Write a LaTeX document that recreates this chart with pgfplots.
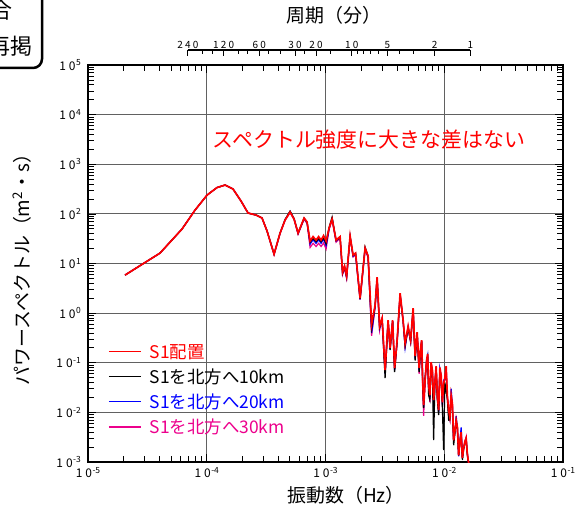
\documentclass[border=0pt]{standalone}
\usepackage{fontspec}
\setmainfont{Noto Sans CJK JP}
\usepackage{pgfplots}
\pgfplotsset{compat=1.18}
\usepackage{pgfplotstable}

\pgfplotstableread{
f P
2.05e-5 5.84
4.04e-5 16.2
6.19e-5 49.4
7.97e-5 119
1.006e-4 239
1.221e-4 339
1.427e-4 381
1.666e-4 316
1.945e-4 181
2.228e-4 104
2.602e-4 94.6
2.923e-4 82.3
3.221e-4 45.0
3.690e-4 15.5
4.145e-4 41.0
4.567e-4 75.0
5.033e-4 109
5.439e-4 78.5
5.878e-4 41.0
6.602e-4 82.3
6.998e-4 68.4
7.418e-4 28.3
7.863e-4 34.8
8.333e-4 29.6
8.750e-4 34.8
9.183e-4 29.6
9.638e-4 36.5
1.0118e-3 28.3
1.072e-3 51.8
1.137e-3 78.5
1.228e-3 29.6
1.327e-3 34.8
1.393e-3 6.71
1.448e-3 8.87
1.506e-3 5.57
1.612e-3 35.6
1.708e-3 14.8
1.793e-3 16.2
1.956e-3 2.00
2.156e-3 20.4
2.285e-3 14.1
2.446e-3 0.60
2.617e-3 1.45
2.721e-3 5.32
2.856e-3 0.547
2.998e-3 0.793
3.177e-3 0.0710
3.368e-3 0.722
3.501e-3 0.197
3.675e-3 0.722
3.820e-3 0.0778
4.011e-3 0.286
4.251e-3 2.53
4.505e-3 0.722
4.684e-3 0.248
4.965e-3 0.547
5.211e-3 0.286
5.470e-3 1.26
5.687e-3 0.136
5.912e-3 0.414
6.146e-3 0.0778
6.300e-3 0.18
6.452e-3 0.286
6.580e-3 0.05
6.707e-3 0.0140
6.900e-3 0.045
7.107e-3 0.113
7.250e-3 0.15
7.389e-3 0.0353
7.570e-3 0.022
7.755e-3 0.103
7.950e-3 0.07
8.141e-3 0.0176
8.340e-3 0.04
8.545e-3 0.0853
8.750e-3 0.022
8.971e-3 0.0111
9.190e-3 0.08
9.417e-3 0.0562
9.650e-3 0.016
9.883e-3 0.0371
1.012e-2 0.05
1.0375e-2 0.0853
1.063e-2 0.021
1.089e-2 0.0111
1.115e-2 0.008
1.143e-2 0.0222
1.171e-2 0.015
1.200e-2 0.00275
1.230e-2 0.0042
1.260e-2 0.00697
1.291e-2 0.005
1.322e-2 0.00137
1.355e-2 0.0026
1.388e-2 0.00399
1.422e-2 0.0012
1.457e-2 0.00190
1.493e-2 0.0026
1.529e-2 0.00302
1.560e-2 0.0016
1.590e-2 0.00109
1.653e-2 0.000684
}\redtab

\pgfplotstableread{
f P
2.05e-5 5.84
4.04e-5 16.2
6.19e-5 49.4
7.97e-5 119
1.006e-4 239
1.221e-4 339
1.427e-4 381
1.666e-4 316
1.945e-4 181
2.228e-4 104
2.602e-4 94.6
2.923e-4 82.3
3.221e-4 45.0
3.690e-4 15.5
4.145e-4 41.0
4.567e-4 77.0
5.033e-4 114
5.439e-4 80.0
5.878e-4 41.0
6.602e-4 82.3
6.998e-4 68.4
7.418e-4 27.0
7.863e-4 32.0
8.333e-4 27.5
8.750e-4 32.0
9.183e-4 27.5
9.638e-4 33.0
1.0118e-3 25.0
1.072e-3 53.0
1.137e-3 86.0
1.228e-3 29.0
1.327e-3 34.0
1.393e-3 6.4
1.448e-3 8.6
1.506e-3 5.4
1.612e-3 35.0
1.708e-3 14.5
1.793e-3 16.0
1.956e-3 1.95
2.156e-3 21.5
2.285e-3 14.0
2.446e-3 0.50
2.617e-3 1.40
2.721e-3 5.10
2.856e-3 0.52
2.998e-3 0.75
3.177e-3 0.049
3.368e-3 0.70
3.501e-3 0.18
3.675e-3 0.70
3.820e-3 0.0646
4.011e-3 0.27
4.251e-3 2.30
4.505e-3 0.70
4.684e-3 0.22
4.965e-3 0.50
5.211e-3 0.27
5.470e-3 1.15
5.687e-3 0.110
5.912e-3 0.40
6.146e-3 0.0646
6.300e-3 0.16
6.452e-3 0.27
6.580e-3 0.04
6.707e-3 0.0122
6.900e-3 0.05
7.107e-3 0.105
7.250e-3 0.13
7.389e-3 0.0222
7.570e-3 0.018
7.755e-3 0.095
7.950e-3 0.06
8.141e-3 0.00275
8.340e-3 0.035
8.545e-3 0.080
8.750e-3 0.018
8.971e-3 0.0088
9.190e-3 0.07
9.417e-3 0.050
9.650e-3 0.012
9.883e-3 0.00173
1.012e-2 0.04
1.0375e-2 0.0273
1.063e-2 0.018
1.089e-2 0.00697
1.115e-2 0.007
1.143e-2 0.020
1.171e-2 0.013
1.200e-2 0.00218
1.230e-2 0.0038
1.260e-2 0.0065
1.291e-2 0.0045
1.322e-2 0.00137
1.355e-2 0.0024
1.388e-2 0.0038
1.422e-2 0.0011
1.457e-2 0.00180
1.493e-2 0.0024
1.529e-2 0.0028
1.560e-2 0.0015
1.590e-2 0.00100
1.653e-2 0.00065
}\blacktab

\pgfplotstableread{
f P
2.05e-5 5.84
4.04e-5 16.2
6.19e-5 49.4
7.97e-5 119
1.006e-4 239
1.221e-4 339
1.427e-4 381
1.666e-4 316
1.945e-4 181
2.228e-4 104
2.602e-4 94.6
2.923e-4 82.3
3.221e-4 45.0
3.690e-4 15.5
4.145e-4 41.0
4.567e-4 76.0
5.033e-4 112
5.439e-4 79.0
5.878e-4 40.0
6.602e-4 80.0
6.998e-4 66.0
7.418e-4 24.5
7.863e-4 30.0
8.333e-4 25.5
8.750e-4 30.0
9.183e-4 25.5
9.638e-4 31.0
1.0118e-3 23.0
1.072e-3 50.0
1.137e-3 80.0
1.228e-3 28.5
1.327e-3 33.5
1.393e-3 6.3
1.448e-3 8.4
1.506e-3 5.2
1.612e-3 34.5
1.708e-3 14.0
1.793e-3 15.5
1.956e-3 1.90
2.156e-3 20.0
2.285e-3 13.5
2.446e-3 0.40
2.617e-3 1.35
2.721e-3 5.00
2.856e-3 0.50
2.998e-3 0.78
3.177e-3 0.060
3.368e-3 0.70
3.501e-3 0.19
3.675e-3 0.70
3.820e-3 0.070
4.011e-3 0.27
4.251e-3 2.40
4.505e-3 0.70
4.684e-3 0.20
4.965e-3 0.52
5.211e-3 0.27
5.470e-3 1.20
5.687e-3 0.12
5.912e-3 0.40
6.146e-3 0.070
6.300e-3 0.17
6.452e-3 0.28
6.580e-3 0.045
6.707e-3 0.013
6.900e-3 0.05
7.107e-3 0.110
7.250e-3 0.14
7.389e-3 0.030
7.570e-3 0.020
7.755e-3 0.100
7.950e-3 0.065
8.141e-3 0.012
8.340e-3 0.038
8.545e-3 0.082
8.750e-3 0.020
8.971e-3 0.0100
9.190e-3 0.075
9.417e-3 0.054
9.650e-3 0.014
9.883e-3 0.045
1.012e-2 0.045
1.0375e-2 0.070
1.063e-2 0.020
1.089e-2 0.0105
1.115e-2 0.0075
1.143e-2 0.030
1.171e-2 0.014
1.200e-2 0.0026
1.230e-2 0.0040
1.260e-2 0.0085
1.291e-2 0.0048
1.322e-2 0.00130
1.355e-2 0.0025
1.388e-2 0.0050
1.422e-2 0.0012
1.457e-2 0.00185
1.493e-2 0.0025
1.529e-2 0.0030
1.560e-2 0.0016
1.590e-2 0.00105
1.653e-2 0.00066
}\bluetab

\pgfplotstableread{
f P
2.05e-5 5.84
4.04e-5 16.2
6.19e-5 49.4
7.97e-5 119
1.006e-4 239
1.221e-4 339
1.427e-4 381
1.666e-4 316
1.945e-4 181
2.228e-4 104
2.602e-4 94.6
2.923e-4 82.3
3.221e-4 45.0
3.690e-4 15.0
4.145e-4 40.0
4.567e-4 74.0
5.033e-4 106
5.439e-4 77.0
5.878e-4 39.0
6.602e-4 78.0
6.998e-4 64.0
7.418e-4 21.0
7.863e-4 25.5
8.333e-4 22.0
8.750e-4 25.5
9.183e-4 22.0
9.638e-4 26.0
1.0118e-3 19.5
1.072e-3 48.0
1.137e-3 76.0
1.228e-3 27.0
1.327e-3 32.5
1.393e-3 6.0
1.448e-3 8.0
1.506e-3 5.0
1.612e-3 34.0
1.708e-3 13.5
1.793e-3 15.0
1.956e-3 1.85
2.156e-3 19.5
2.285e-3 13.0
2.446e-3 0.35
2.617e-3 1.30
2.721e-3 4.90
2.856e-3 0.45
2.998e-3 0.78
3.177e-3 0.065
3.368e-3 0.68
3.501e-3 0.19
3.675e-3 0.68
3.820e-3 0.075
4.011e-3 0.25
4.251e-3 2.40
4.505e-3 0.68
4.684e-3 0.22
4.965e-3 0.52
5.211e-3 0.26
5.470e-3 1.20
5.687e-3 0.13
5.912e-3 0.40
6.146e-3 0.060
6.300e-3 0.17
6.452e-3 0.25
6.580e-3 0.03
6.707e-3 0.0085
6.900e-3 0.04
7.107e-3 0.105
7.250e-3 0.14
7.389e-3 0.030
7.570e-3 0.016
7.755e-3 0.100
7.950e-3 0.065
8.141e-3 0.015
8.340e-3 0.036
8.545e-3 0.080
8.750e-3 0.019
8.971e-3 0.0105
9.190e-3 0.072
9.417e-3 0.052
9.650e-3 0.013
9.883e-3 0.036
1.012e-2 0.048
1.0375e-2 0.080
1.063e-2 0.020
1.089e-2 0.0105
1.115e-2 0.0078
1.143e-2 0.022
1.171e-2 0.014
1.200e-2 0.0027
1.230e-2 0.0041
1.260e-2 0.0068
1.291e-2 0.0049
1.322e-2 0.00135
1.355e-2 0.0026
1.388e-2 0.0045
1.422e-2 0.0012
1.457e-2 0.00200
1.493e-2 0.0026
1.529e-2 0.0032
1.560e-2 0.0016
1.590e-2 0.00108
1.653e-2 0.00068
}\magtab

\newcommand{\tl}[1]{1\kern3bp0\kern0.5bp\raisebox{4.5bp}{\fontsize{8.5}{9}\selectfont #1}}

\begin{document}
\begin{tikzpicture}
\path[use as bounding box] (0bp,0bp) rectangle (577bp,508bp);

% corner box (clipped)
\draw[line width=2.5bp, rounded corners=9bp] (42bp,530bp) -- (42bp,440bp) -- (-30bp,440bp);
\node[font=\fontsize{22}{24}\selectfont, anchor=east, inner sep=0] at (13bp,498bp) {合};
\node[font=\fontsize{22}{24}\selectfont, anchor=east, inner sep=0] at (33bp,462bp) {再掲};

% titles
\node[font=\fontsize{19}{22}\selectfont] at (334bp,493bp) {周期（分）};
\node[font=\fontsize{19}{22}\selectfont] at (346bp,13bp) {振動数（Hz）};
\node[font=\fontsize{19}{22}\selectfont, rotate=90] at (22bp,243bp) {パワースペクトル（m\textsuperscript{2}・s）};

% top period axis
\begin{axis}[
  at={(187.9bp,458bp)}, anchor=north west, scale only axis,
  width=282.5bp, height=10bp,
  xmode=log, xmin=6.9444e-5, xmax=1.6667e-2, ymin=0, ymax=1,
  axis x line*=top, axis y line=none,
  x axis line style={-, line width=1.3bp},
  xtick align=inside,
  major tick length=6bp, minor tick length=4bp,
  tick style={line width=0.8bp, black},
  xtick={6.9444e-5,1.3889e-4,2.7778e-4,5.5556e-4,8.3333e-4,1.6667e-3,3.3333e-3,8.3333e-3,1.6667e-2},
  xticklabels={2\kern2.2bp4\kern2.2bp0,1\kern2.2bp2\kern2.2bp0,6\kern2.2bp0,3\kern2.2bp0,2\kern2.2bp0,1\kern2.2bp0,5,2,1},
  minor xtick={9.2593e-5,1.1111e-4,1.8519e-4,2.2222e-4,3.3333e-4,4.1667e-4,6.6667e-4,1.1111e-3,1.8519e-3,2.0833e-3,2.3810e-3,2.7778e-3,4.1667e-3,5.5556e-3},
  xticklabel style={font=\fontsize{10}{11}\selectfont, inner sep=1.5bp},
]
\end{axis}

% main axis
\begin{axis}[
  at={(88bp,46bp)}, anchor=south west, scale only axis,
  width=475bp, height=397bp,
  xmode=log, ymode=log,
  xmin=1e-5, xmax=1e-1, ymin=1e-3, ymax=1e5,
  xtick={1e-5,1e-4,1e-3,1e-2,1e-1},
  xticklabels={\tl{-5},\tl{-4},\tl{-3},\tl{-2},\tl{-1}},
  ytick={1e-3,1e-2,1e-1,1,10,100,1000,10000,100000},
  yticklabels={\tl{-3},\tl{-2},\tl{-1},\tl{0},\tl{1},\tl{2},\tl{3},\tl{4},\tl{5}},
  minor xtick={2e-5,3e-5,4e-5,5e-5,6e-5,7e-5,8e-5,9e-5,2e-4,3e-4,4e-4,5e-4,6e-4,7e-4,8e-4,9e-4,2e-3,3e-3,4e-3,5e-3,6e-3,7e-3,8e-3,9e-3,2e-2,3e-2,4e-2,5e-2,6e-2,7e-2,8e-2,9e-2},
  minor ytick={2e-3,3e-3,4e-3,5e-3,6e-3,7e-3,8e-3,9e-3,2e-2,3e-2,4e-2,5e-2,6e-2,7e-2,8e-2,9e-2,0.2,0.3,0.4,0.5,0.6,0.7,0.8,0.9,2,3,4,5,6,7,8,9,20,30,40,50,60,70,80,90,200,300,400,500,600,700,800,900,2000,3000,4000,5000,6000,7000,8000,9000,20000,30000,40000,50000,60000,70000,80000,90000},
  grid=major,
  major grid style={line width=1.1bp, color=black!62},
  tick align=inside,
  major tick length=8bp, minor tick length=6bp,
  tick style={line width=0.7bp, black},
  axis line style={line width=1.5bp},
  xticklabel style={font=\fontsize{12}{13}\selectfont, inner sep=2bp, yshift=-3bp},
  yticklabel style={font=\fontsize{12}{13}\selectfont, inner sep=2bp, xshift=-5bp},
  legend style={at={(axis description cs:0.036,0.305)}, anchor=north west,
    draw=none, fill=none, font=\fontsize{17.5}{19}\selectfont,
    nodes={inner sep=1bp, anchor=west}, row sep=7bp},
  legend image code/.code={\draw[#1, line width=1.2bp] (0bp,0bp) -- (32bp,0bp); \path (39bp,0bp);},
  reverse legend,
]
\addplot[magenta, line width=1.2bp] table[x=f, y=P] {\magtab};
\addlegendentry{\textcolor{magenta}{S1を北方へ30km}}
\addplot[blue, line width=1.2bp] table[x=f, y=P] {\bluetab};
\addlegendentry{\textcolor{blue}{S1を北方へ20km}}
\addplot[black, line width=1.2bp] table[x=f, y=P] {\blacktab};
\addlegendentry{\textcolor{black}{S1を北方へ10km}}
\addplot[red, line width=1.7bp] table[x=f, y=P] {\redtab};
\addlegendentry{\textcolor{red}{S1配置}}
\end{axis}

\node[font=\fontsize{21}{23}\selectfont, text=red] at (369bp,368bp) {スペクトル強度に大きな差はない};
\end{tikzpicture}
\end{document}
